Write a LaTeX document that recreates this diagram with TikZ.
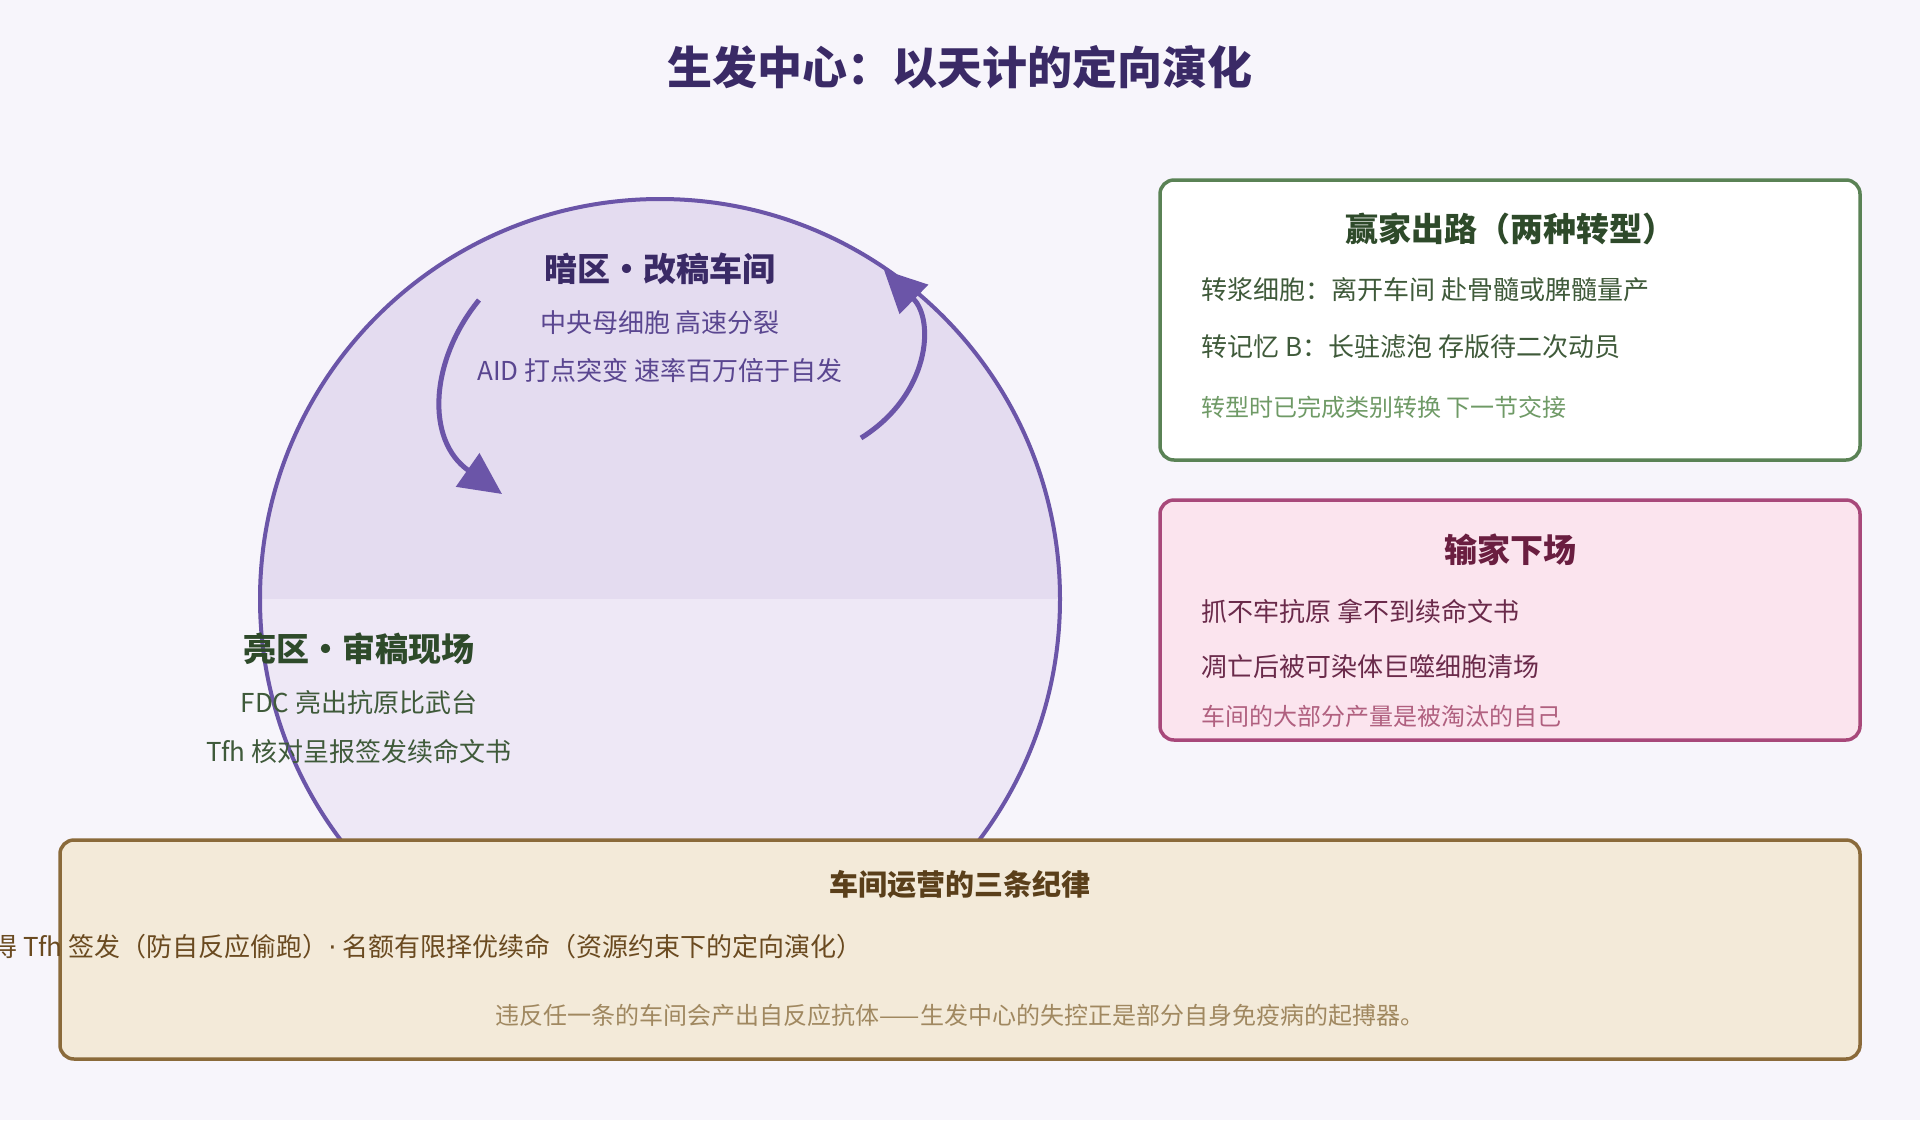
\documentclass[tikz,border=0pt]{standalone}
\usepackage{fontspec}
\setmainfont{Noto Sans CJK SC}
\newfontfamily\latinf{DejaVu Sans}
\usetikzlibrary{arrows.meta}
\definecolor{bg}{HTML}{F7F5FB}
\definecolor{dz}{HTML}{E4DCF0}
\definecolor{lz}{HTML}{EEE8F6}
\definecolor{pur}{HTML}{6B55A8}
\definecolor{ttl}{HTML}{3A2A66}
\definecolor{pbody}{HTML}{5A4690}
\definecolor{gdark}{HTML}{2E4A2A}
\definecolor{gtext}{HTML}{3F5A3A}
\definecolor{gline}{HTML}{5A8255}
\definecolor{gnote}{HTML}{6F9A66}
\definecolor{pkfill}{HTML}{FBE4EE}
\definecolor{pkline}{HTML}{A8487A}
\definecolor{pkttl}{HTML}{6A1E40}
\definecolor{pktext}{HTML}{6A2A4A}
\definecolor{pknote}{HTML}{B0607F}
\definecolor{bfill}{HTML}{F3EAD9}
\definecolor{bline}{HTML}{8A6A3A}
\definecolor{bttl}{HTML}{5A3F1A}
\definecolor{btext}{HTML}{6A4A20}
\definecolor{bnote}{HTML}{A08860}
\tikzset{
 box/.style={rounded corners=14pt,line width=3.5pt},
 hd/.style={font=\bfseries\fontsize{33}{38}\selectfont},
 bd/.style={font=\fontsize{26}{31}\selectfont},
 nt/.style={font=\fontsize{24}{29}\selectfont},
 arr/.style={line width=5pt,color=pur,-{Triangle[length=42pt,width=40pt]}},
}
\begin{document}
\begin{tikzpicture}[x=1pt,y=-1pt]
\path[use as bounding box,fill=bg] (0,0) rectangle (1920,1120);
\node[font=\bfseries\fontsize{45}{52}\selectfont,text=ttl] (title) at (960,67) {生发中心：以天计的定向演化};
% circle
\begin{scope}
\clip (660,599) circle (400);
\fill[dz] (240,180) rectangle (1080,599);
\fill[lz] (240,599) rectangle (1080,1020);
\end{scope}
\draw[pur,line width=4pt] (660,599) circle (400);
\node[hd,text=ttl] (dzh) at (660,269) {暗区・改稿车间};
\node[bd,text=pbody] (dz1) at (660,323) {中央母细胞 高速分裂};
\node[bd,text=pbody] (dz2) at (660,371) {AID 打点突变 速率百万倍于自发};
\coordinate (a1) at (479,300);
\coordinate (a1e) at (502,494);
\coordinate (a2) at (861,438);
\coordinate (a2e) at (884,270);
\draw[arr] (a1) .. controls (430,360) and (425,440) .. (a1e);
\draw[arr] (a2) .. controls (930,395) and (935,320) .. (a2e);
\node[hd,text=gdark] (lzh) at (359,649) {亮区・审稿现场};
\node[bd,text=gtext] (lz1) at (359,703) {FDC 亮出抗原比武台};
\node[bd,text=gtext] (lz2) at (359,751) {Tfh 核对呈报签发续命文书};
% green box
\draw[box,gline,fill=white] (1160,180) rectangle (1860,460);
\node[hd,text=gdark] (gt) at (1510,229) {赢家出路（两种转型）};
\node[bd,text=gtext,anchor=west] (g1) at (1198,290) {转浆细胞：离开车间 赴骨髓或脾髓量产};
\node[bd,text=gtext,anchor=west] (g2) at (1198,347) {转记忆 B：长驻滤泡 存版待二次动员};
\node[nt,text=gnote,anchor=west] (g3) at (1198,407) {转型时已完成类别转换 下一节交接};
% pink box
\draw[box,pkline,fill=pkfill] (1160,500) rectangle (1860,740);
\node[hd,text=pkttl] (pt) at (1510,550) {输家下场};
\node[bd,text=pktext,anchor=west] (p1) at (1198,611) {抓不牢抗原 拿不到续命文书};
\node[bd,text=pktext,anchor=west] (p2) at (1198,667) {凋亡后被可染体巨噬细胞清场};
\node[nt,text=pknote,anchor=west] (p3) at (1198,716) {车间的大部分产量是被淘汰的自己};
% bottom box
\draw[box,bline,fill=bfill] (60,840) rectangle (1860,1059);
\node[font=\bfseries\fontsize{29}{34}\selectfont,text=bttl] (bt) at (960,885) {车间运营的三条纪律};
\node[bd,text=btext,anchor=east] (b1) at (866,947) {新赢得 Tfh 签发（防自反应偷跑）{\latinf ·} 名额有限择优续命（资源约束下的定向演化）};
\node[nt,text=bnote] (b2) at (960,1015) {违反任一条的车间会产出自反应抗体——生发中心的失控正是部分自身免疫病的起搏器。};
\end{tikzpicture}
\end{document}
